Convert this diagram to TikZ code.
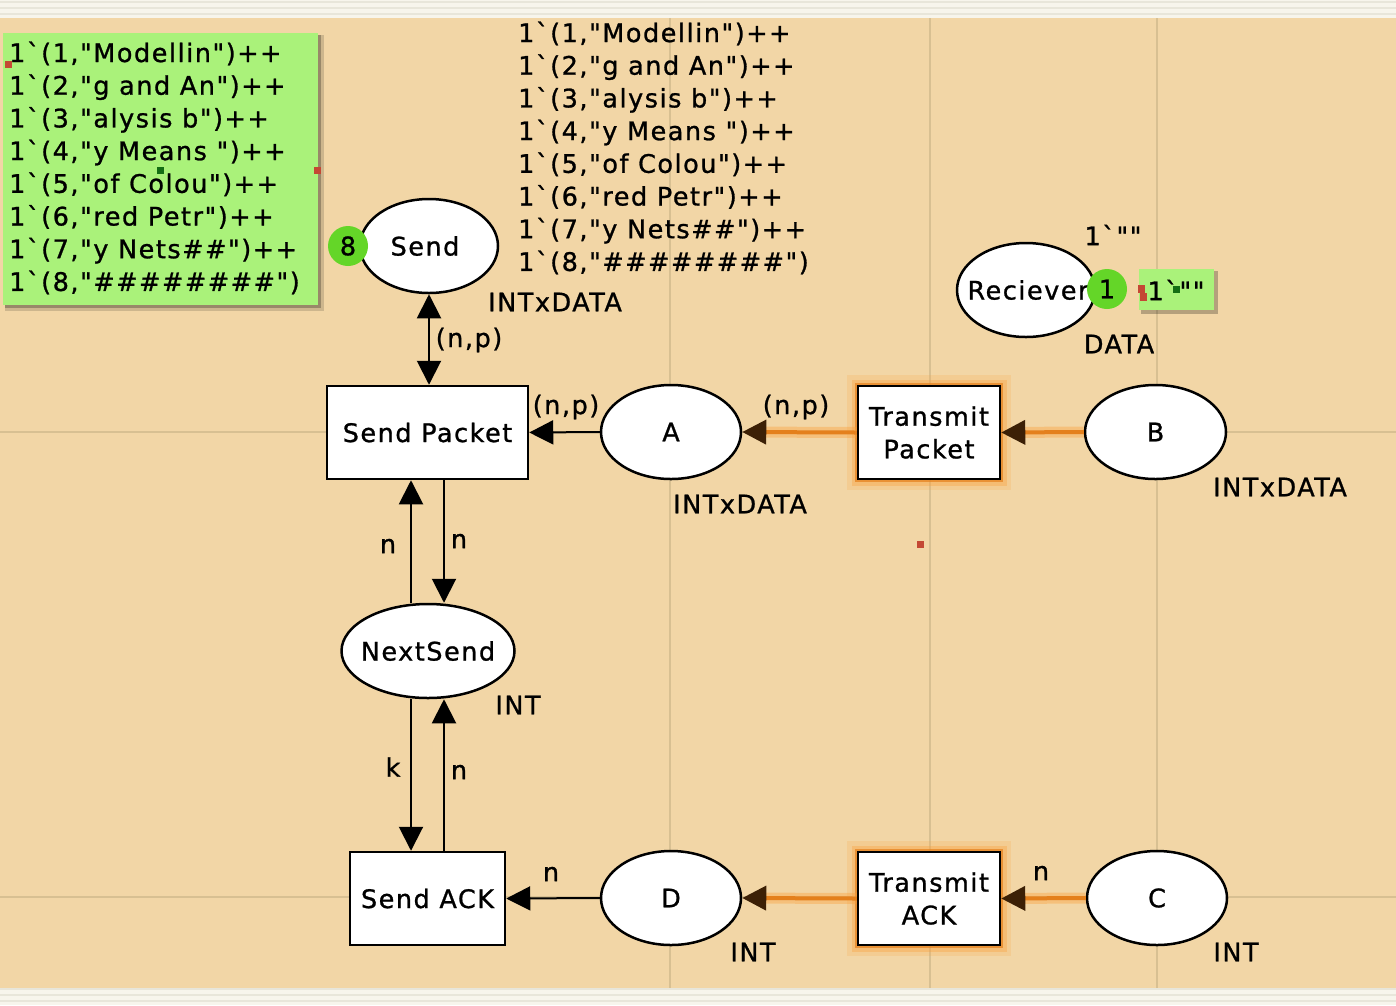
\documentclass[tikz,border=0pt]{standalone}
\usepackage{fontspec}
\setmainfont{DejaVu Sans}[Ligatures=TeXOff,LetterSpace=6,FakeBold=1]
\usetikzlibrary{shapes.geometric,arrows.meta}
\definecolor{bg}{RGB}{242,214,166}
\definecolor{gridc}{RGB}{216,192,146}
\definecolor{tokboxc}{RGB}{170,242,122}
\definecolor{tokc}{RGB}{100,214,40}
\definecolor{oarc}{RGB}{228,128,28}
\definecolor{oglow}{RGB}{250,160,60}
\definecolor{ohead}{RGB}{60,32,6}
\definecolor{band}{RGB}{247,245,236}
\definecolor{bandline}{RGB}{232,230,218}
\definecolor{mred}{RGB}{196,72,52}
\definecolor{mgreen}{RGB}{20,110,20}
\newcommand\cpnfont{\fontsize{25.5pt}{32.7pt}\selectfont}
\begin{document}
\begin{tikzpicture}[x=1pt,y=-1pt,font=\cpnfont,
  place/.style={ellipse,draw=black,line width=2.5pt,fill=white,inner sep=0pt,minimum width=140pt,minimum height=94pt},
  trans/.style={rectangle,draw=black,line width=2.5pt,fill=white,inner sep=0pt,align=center,minimum height=93pt},
  tglow/.style={preaction={draw=oglow,line width=22pt,opacity=0.18},preaction={draw=oglow,line width=13pt,opacity=0.35},preaction={draw=oarc,line width=6pt,opacity=0.7}},
  lbl/.style={inner sep=0pt},
  tok/.style={circle,fill=tokc,inner sep=0pt,minimum size=40pt},
  arc/.style={draw=black,line width=2pt,-{Triangle[length=24pt,width=24pt]}},
  oarcs/.style={draw=oarc,line width=4pt,-{Triangle[length=24pt,width=24pt,color=ohead]}},
  oglowline/.style={draw=oglow,line width=11pt,opacity=0.4,shorten >=20pt},
  dbl/.style={draw=black,line width=2pt,{Triangle[length=24pt,width=24pt]}-{Triangle[length=24pt,width=24pt]}},
  tl/.style={inner sep=0pt,anchor=base west}
]
\useasboundingbox (0,0) rectangle (1396,1005);
% background
\fill[bg] (0,0) rectangle (1396,1005);
\fill[band] (0,0) rectangle (1396,18);
\foreach \yy in {1.5,7.5,13.5} \draw[bandline,line width=2pt] (0,\yy) -- (1396,\yy);
\fill[band] (0,988) rectangle (1396,1005);
\foreach \yy in {989,995,1001} \draw[bandline,line width=2pt] (0,\yy) -- (1396,\yy);
% grid
\foreach \xx in {670,930,1157} \draw[gridc,line width=1.8pt] (\xx,18) -- (\xx,988);
\foreach \yy in {432,897} \draw[gridc,line width=1.8pt] (0,\yy) -- (1396,\yy);

% token box (current marking)
\fill[black,opacity=0.15] (5,35) rectangle (324,311);
\fill[black,opacity=0.25] (5,35) rectangle (321,308);
\fill[tokboxc] (3,33) rectangle (318,305);
\node[tl] (g1) at (9,62) {1`(1,"Modellin")++};
\node[tl] (g2) at (9,94.7) {1`(2,"g and An")++};
\node[tl] (g3) at (9,127.4) {1`(3,"alysis b")++};
\node[tl] (g4) at (9,160.1) {1`(4,"y Means ")++};
\node[tl] (g5) at (9,192.8) {1`(5,"of Colou")++};
\node[tl] (g6) at (9,225.5) {1`(6,"red Petr")++};
\node[tl] (g7) at (9,258.2) {1`(7,"y Nets\#\#")++};
\node[tl] (g8) at (9,290.9) {1`(8,"\#\#\#\#\#\#\#\#")};

% initial marking text
\node[tl] (h1) at (518,42) {1`(1,"Modellin")++};
\node[tl] (h2) at (518,74.7) {1`(2,"g and An")++};
\node[tl] (h3) at (518,107.4) {1`(3,"alysis b")++};
\node[tl] (h4) at (518,140.1) {1`(4,"y Means ")++};
\node[tl] (h5) at (518,172.8) {1`(5,"of Colou")++};
\node[tl] (h6) at (518,205.5) {1`(6,"red Petr")++};
\node[tl] (h7) at (518,238.2) {1`(7,"y Nets\#\#")++};
\node[tl] (h8) at (518,270.9) {1`(8,"\#\#\#\#\#\#\#\#")};

% nodes
\node[place,minimum width=138pt] (Send) at (429,246) {\makebox[0pt]{\hspace*{-8pt}Send}};
\node[trans,minimum width=201pt] (SP) at (427.5,432.5) {Send Packet};
\node[place] (A) at (671,432) {A};
\node[trans,tglow,minimum width=142pt] (TP) at (929,432.5) {Transmit\\Packet};
\node[place,minimum width=141pt] (B) at (1155.5,432) {B};
\node[place,minimum width=138pt] (Rec) at (1026,290) {\makebox[0pt]{\hspace*{4pt}Reciever}};
\node[place,minimum width=173pt] (NS) at (428,651) {\makebox[0pt]{NextSend}};
\node[trans,minimum width=155pt] (SA) at (427.5,898.5) {\makebox[0pt]{Send ACK}};
\node[place] (D) at (671,898) {D};
\node[trans,tglow,minimum width=142pt] (TA) at (929,898.5) {Transmit\\ACK};
\node[place] (C) at (1157,898) {C};

% tokens
\node[tok] (k8) at (348,246) {8};
\node[tok] (k1) at (1107,289) {1};
\fill[black,opacity=0.25] (1141,271) rectangle (1218,314);
\fill[tokboxc] (1139,269) rectangle (1214,310);
\node[lbl] (tb2) at (1176,290) {1`""};

% arcs
\draw[dbl] (Send.south) -- (Send.south |- SP.north);
\draw[arc] (A.west) -- (SP.east);
\draw[oglowline] (TP.west) -- (A.east);
\draw[oarcs] (TP.west) -- (A.east);
\draw[oglowline] (B.west) -- (TP.east);
\draw[oarcs] (B.west) -- (TP.east);
\draw[arc] ([xshift=-17pt]NS.north) -- ([xshift=-16.5pt]SP.south);
\draw[arc] ([xshift=16.5pt]SP.south) -- ([xshift=16pt]NS.north);
\draw[arc] ([xshift=-17pt]NS.south) -- ([xshift=-16.5pt]SA.north);
\draw[arc] ([xshift=16.5pt]SA.north) -- ([xshift=16pt]NS.south);
\draw[arc] (D.west) -- (SA.east);
\draw[oglowline] (TA.west) -- (D.east);
\draw[oarcs] (TA.west) -- (D.east);
\draw[oglowline] (C.west) -- (TA.east);
\draw[oarcs] (C.west) -- (TA.east);

% labels
\node[lbl] (l1) at (555,302) {INTxDATA};
\node[lbl] (l2) at (469,340) {(n,p)};
\node[lbl] (l3) at (566,407) {(n,p)};
\node[lbl] (l4) at (796,407) {(n,p)};
\node[lbl] (l5) at (740,504) {INTxDATA};
\node[lbl] (l6) at (1280,487) {INTxDATA};
\node[lbl] (l7) at (1113,235) {1`""};
\node[lbl] (l8) at (1119,344) {DATA};
\node[lbl] (l9) at (388,546) {n};
\node[lbl] (l10) at (459,541) {n};
\node[lbl] (l11) at (518,705) {INT};
\node[lbl] (l12) at (393,767) {k};
\node[lbl] (l13) at (459,772) {n};
\node[lbl] (l14) at (551,874) {n};
\node[lbl] (l15) at (753,952) {INT};
\node[lbl] (l16) at (1041,873) {n};
\node[lbl] (l17) at (1236,952) {INT};

% selection markers
\fill[mred] (4.5,60.5) rectangle ++(7,7);
\fill[mred] (314,166.5) rectangle ++(7,7);
\fill[mred] (1137.5,285) rectangle ++(7,8);
\fill[mred] (1140,293) rectangle ++(7,8);
\fill[mred] (916.5,540.5) rectangle ++(7,7);
\fill[mgreen] (156.5,166.5) rectangle ++(7,7);
\fill[mgreen] (1173,285.5) rectangle ++(7,7);
\end{tikzpicture}
\end{document}
